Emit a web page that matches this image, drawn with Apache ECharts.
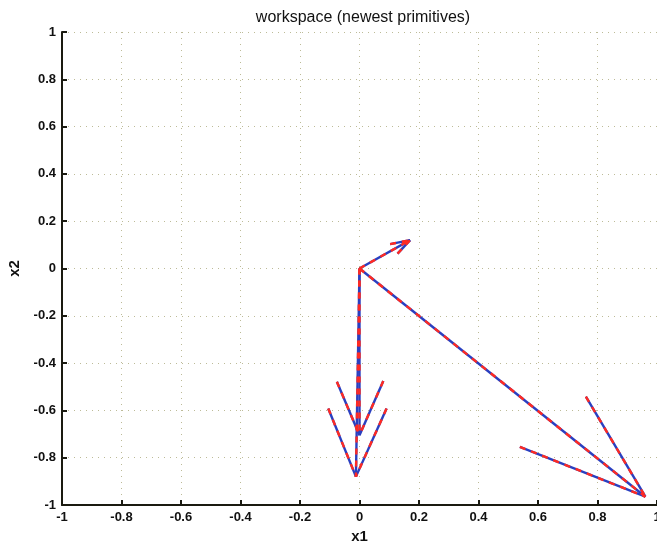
<!DOCTYPE html>
<html>
<head>
<meta charset="utf-8">
<script src="https://cdn.jsdelivr.net/npm/echarts@6/dist/echarts.min.js"></script>
<style>
html,body{margin:0;padding:0;background:#fff;}
#c{width:657px;height:541px;}
</style>
</head>
<body>
<div id="c"></div>
<script>
// ---- data ----
var titleText = 'workspace (newest primitives)';
var xName = 'x1';
var yName = 'x2';
var xTicks = [-1, -0.8, -0.6, -0.4, -0.2, 0, 0.2, 0.4, 0.6, 0.8, 1];
var yTicks = [-1, -0.8, -0.6, -0.4, -0.2, 0, 0.2, 0.4, 0.6, 0.8, 1];

// arrow shafts: start and tip
var shaftStarts = [[0, 0], [0, 0], [0, 0], [0, 0]];
var shaftTips   = [[0.17, 0.12], [0, -0.705], [-0.012, -0.88], [0.961, -0.965]];
// arrowhead barb ends (two per arrow)
var barbLeft  = [[0.103, 0.103], [-0.076, -0.479], [-0.105, -0.592], [0.761, -0.542]];
var barbRight = [[0.128, 0.063], [0.080, -0.476], [0.091, -0.592], [0.539, -0.754]];

// ---- build segments ----
var segments = [];
for (var i = 0; i < shaftTips.length; i++) {
  segments.push([shaftStarts[i], shaftTips[i]]);
  segments.push([barbLeft[i], shaftTips[i]]);
  segments.push([barbRight[i], shaftTips[i]]);
}

var series = [];
segments.forEach(function (s) {
  series.push({
    type: 'line', data: s, symbol: 'none', silent: true,
    lineStyle: { color: '#2a3fc0', width: 2.4, type: 'solid' }, z: 3
  });
});
segments.forEach(function (s) {
  series.push({
    type: 'line', data: s, symbol: 'none', silent: true,
    lineStyle: { color: '#ff2a22', width: 2.4, type: [6, 6] }, z: 4
  });
});

function fmt(v) {
  var r = Math.round(v * 10) / 10;
  if (r === 0) return '0';
  return String(r);
}

var labelFont = { fontFamily: 'Liberation Sans, Arial, sans-serif', fontSize: 13, fontWeight: 'bold', color: '#111' };
var gridLine = { show: true, lineStyle: { color: '#bdbb98', width: 1, type: [1, 5] } };

var chart = echarts.init(document.getElementById('c'));
chart.setOption({
  animation: false,
  backgroundColor: '#fff',
  title: {
    text: titleText, left: 358, top: 5, textAlign: 'center',
    textStyle: { fontFamily: 'Liberation Sans, Arial, sans-serif', fontSize: 16, fontWeight: 'normal', color: '#111' }
  },
  grid: { left: 62, right: 0, top: 32, bottom: 36, containLabel: false, outerBoundsMode: 'none' },
  xAxis: {
    type: 'value', min: -1, max: 1, interval: 0.2,
    name: xName, nameLocation: 'middle', nameGap: 21,
    nameTextStyle: { fontFamily: 'Liberation Sans, Arial, sans-serif', fontSize: 15, fontWeight: 'bold', color: '#111' },
    axisLine: { show: true, onZero: false, lineStyle: { color: '#1a1a10', width: 2 } },
    axisTick: { show: true, inside: true, length: 5, lineStyle: { color: '#1a1a10', width: 2 } },
    axisLabel: Object.assign({ margin: 6, formatter: fmt, hideOverlap: false }, labelFont),
    splitLine: gridLine
  },
  yAxis: {
    type: 'value', min: -1, max: 1, interval: 0.2,
    name: yName, nameLocation: 'middle', nameGap: 36, nameRotate: 90,
    nameTextStyle: { fontFamily: 'Liberation Sans, Arial, sans-serif', fontSize: 15, fontWeight: 'bold', color: '#111' },
    axisLine: { show: true, onZero: false, lineStyle: { color: '#1a1a10', width: 2 } },
    axisTick: { show: true, inside: true, length: 5, lineStyle: { color: '#1a1a10', width: 2 } },
    axisLabel: Object.assign({ margin: 6, formatter: fmt, hideOverlap: false }, labelFont),
    splitLine: gridLine
  },
  series: series
});
</script>
</body>
</html>
